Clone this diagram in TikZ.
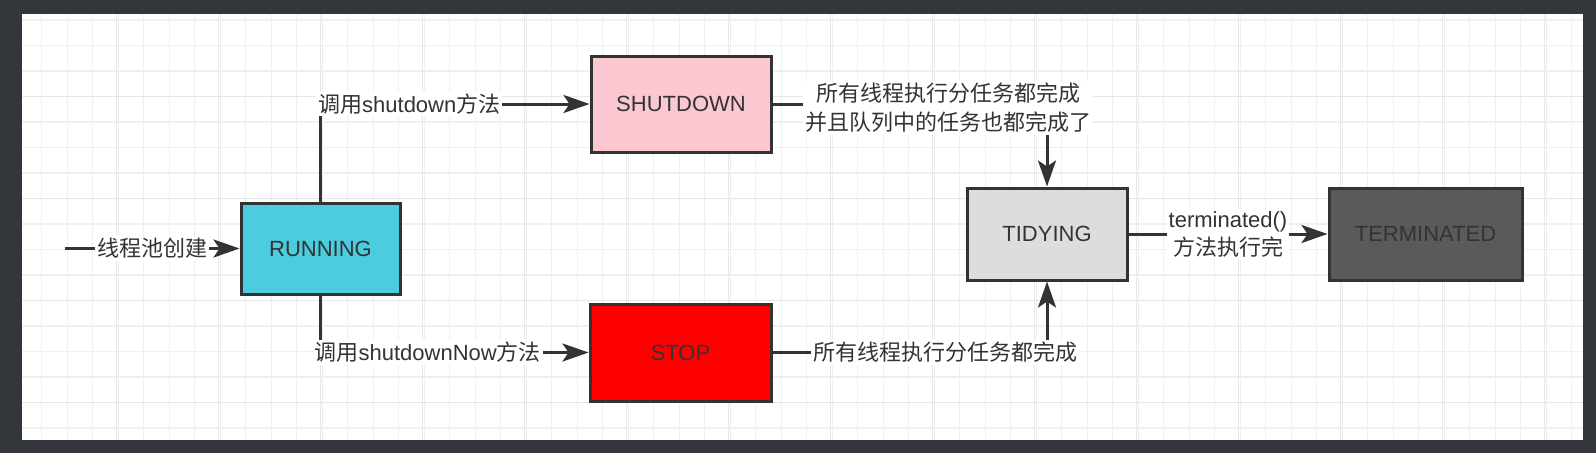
\documentclass[tikz,border=0pt]{standalone}
\usepackage{fontspec}
\setmainfont{Liberation Sans}
\newfontfamily\cjk{Noto Sans CJK SC}
\usetikzlibrary{arrows.meta}
\definecolor{frame}{HTML}{33373B}
\definecolor{ink}{HTML}{333333}
\definecolor{gridminor}{HTML}{F0F0F0}
\definecolor{gridmajor}{HTML}{E7E7E7}
\definecolor{running}{HTML}{4BCCDF}
\definecolor{shutdown}{HTML}{FBC7D0}
\definecolor{stop}{HTML}{FE0000}
\definecolor{tidying}{HTML}{DDDDDD}
\definecolor{terminated}{HTML}{5A5A5A}
\newcommand{\ZH}[1]{{\cjk #1}}
\tikzset{%
  state/.style={rectangle,draw=ink,line width=3pt,text=ink,inner sep=0pt,
    font=\fontsize{22}{26}\selectfont},
  tag/.style={fill=white,text=ink,inner sep=2pt,align=center,
    font=\fontsize{22}{29}\selectfont},
  link/.style={draw=ink,line width=3pt,
    -{Stealth[length=26pt,width=18pt,inset=6pt]}},
}
\newcommand{\DataGrid}{
  % minor lines
  \foreach \i in {0,...,60}
    \draw[gridminor,line width=1.2pt] ({41.7+25.5*\i},14) -- ++(0,426);
  \foreach \j in {0,...,16}
    \draw[gridminor,line width=1.2pt] (22,{20+25.5*\j}) -- ++(1561,0);
  % major lines
  \foreach \i in {0,...,14}
    \draw[gridmajor,line width=1.4pt] ({116.7+102*\i},14) -- ++(0,426);
  \foreach \j in {0,...,3}
    \draw[gridmajor,line width=1.4pt] (22,{96.5+102*\j}) -- ++(1561,0);
}
\begin{document}
\begin{tikzpicture}[x=1pt,y=-1pt]
  \useasboundingbox (0,0) rectangle (1596,453);
  \fill[frame] (0,0) rectangle (1596,453);
  \fill[white] (22,14) rectangle (1583,440);
  \DataGrid% background grid

  % states
  \node[state,fill=running,minimum width=159pt,minimum height=91pt] (running) at (320.5,248.5) {RUNNING};
  \node[state,fill=shutdown,minimum width=180pt,minimum height=96pt] (shutdown) at (681,104) {SHUTDOWN};
  \node[state,fill=stop,minimum width=181pt,minimum height=97pt] (stop) at (680.5,352.5) {STOP};
  \node[state,fill=tidying,minimum width=160pt,minimum height=92pt] (tidying) at (1047,234) {TIDYING};
  \node[state,fill=terminated,minimum width=193pt,minimum height=92pt] (terminated) at (1425.5,234) {TERMINATED};
  \coordinate (start) at (65,248.5);

  % transitions
  \draw[link] (start) -- node[tag] {\ZH{线程池创建}} (running);
  \draw[link] (running.north) |- node[tag,pos=0.665] {\ZH{调用}shutdown\ZH{方法}} (shutdown.west);
  \draw[link] (running.south) |- node[tag,pos=0.70] {\ZH{调用}shutdownNow\ZH{方法}} (stop.west);
  \draw[link] (shutdown.east) -| node[tag,pos=0.32,yshift=-4pt] {\ZH{所有线程执行分任务都完成}\\\ZH{并且队列中的任务也都完成了}} (tidying.north);
  \draw[link] (stop.east) -| node[tag,pos=0.315] {\ZH{所有线程执行分任务都完成}} (tidying.south);
  \draw[link] (tidying) -- node[tag,font=\fontsize{22}{28}\selectfont] {terminated()\\\ZH{方法执行完}} (terminated);
\end{tikzpicture}
\end{document}
